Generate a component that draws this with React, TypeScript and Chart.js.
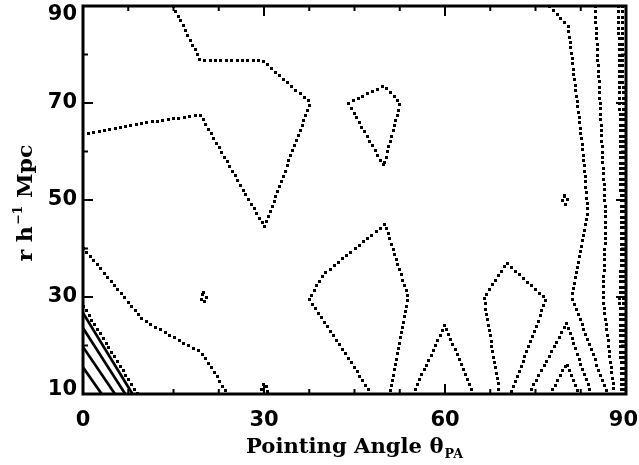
import React, { useEffect, useRef } from 'react';
import { Chart, registerables } from 'chart.js';

Chart.register(...registerables);

// ---- axis ticks ----
const xTickValues = [0, 30, 60, 90];
const xMinorTickValues = [7.5, 15, 22.5, 37.5, 45, 52.5, 67.5, 75, 82.5];
const yTickValues = [10, 30, 50, 70, 90];
const yMinorTickValues = [20, 40, 60, 80];
const xTitleMain = 'Pointing Angle θ';
const xTitleSub = 'PA';
const yTitleParts = ['r h', '−1', ' Mpc'];

// ---- contour lines (x = pointing angle, y = r) ----
const contourTopLeft = [[14.9, 90], [19.4, 78.8], [29.8, 78.8], [37.6, 70.1], [30, 44.5], [19.4, 67.6], [10, 66], [0, 63.5]];
const contourKite70 = [[43.9, 70.1], [49.8, 73.6], [52.5, 70.1], [49.8, 57.1], [43.9, 70.1]];
const contourLeft40 = [[0, 40.2], [9.9, 25.3], [19.4, 18.7], [21.9, 14.3], [23.8, 10]];
const contourLeft28 = [[0, 28.2], [9.0, 10]];
const solidLine1 = [[0, 26.7], [8.2, 10]];
const solidLine2 = [[0, 23.6], [7.0, 10]];
const solidLine3 = [[0, 19.7], [5.3, 10]];
const solidLine4 = [[0, 15.5], [3.1, 10]];
const blob20 = [[19.9, 31], [20.4, 29.9], [19.9, 28.9], [19.4, 29.9], [19.9, 31]];
const blob30 = [[29.4, 10], [29.6, 11.6], [30, 12.4], [30.4, 11.6], [30.6, 10]];
const blob80 = [[79.8, 51.1], [80.3, 50.1], [79.8, 49.1], [79.3, 50.1], [79.8, 51.1]];
const contourMid45 = [[47.8, 10], [37.4, 29.6], [39.8, 34.8], [50, 45.1], [53.8, 30.1], [50.7, 10]];
const contourPeak60 = [[54.6, 10], [59.9, 24.3], [64.7, 10]];
const contourKite37 = [[69, 10], [66.4, 29.8], [70.2, 37.1], [76.7, 29.6], [70.8, 10]];
const contourPeak80 = [[73.8, 10], [80.1, 24.7], [84.2, 10]];
const contourPeak16 = [[77.3, 10], [80.1, 16.4], [82.2, 10]];
const contourRightK = [[77.3, 90], [80.3, 86], [81.1, 78], [82.8, 60], [83.6, 48], [81, 30], [86.9, 10]];
const contourRightM = [[84.8, 90], [85.6, 70.7], [86.6, 45], [86.1, 30], [88, 10]];
const contourRightN = [[88.7, 90], [89.2, 40], [88.9, 30], [89.2, 10]];
const contourRightO = [[89.4, 90], [89.5, 10]];

const dottedContours = [
  contourTopLeft, contourKite70, contourLeft40, contourLeft28, blob20, blob30, blob80,
  contourMid45, contourPeak60, contourKite37, contourPeak80, contourPeak16,
  contourRightK, contourRightM, contourRightN, contourRightO,
];
const solidContours = [solidLine1, solidLine2, solidLine3, solidLine4];

const toPoints = (arr: number[][]) => arr.map(([x, y]) => ({ x, y }));

// draws the dotted contour datasets as crisp dots spaced along the library-computed polyline
const dottedLinePlugin = {
  id: 'dottedContours',
  afterDatasetsDraw(chart: any) {
    const { ctx, chartArea: a } = chart;
    ctx.save();
    ctx.beginPath();
    ctx.rect(a.left, a.top, a.right - a.left, a.bottom - a.top);
    ctx.clip();
    ctx.fillStyle = '#000';
    const spacing = 5.4;
    chart.data.datasets.forEach((ds: any, i: number) => {
      if (!ds.dotted) return;
      const pts = chart.getDatasetMeta(i).data;
      let carry = 0;
      for (let k = 0; k < pts.length - 1; k++) {
        const p0 = pts[k];
        const p1 = pts[k + 1];
        const dx = p1.x - p0.x;
        const dy = p1.y - p0.y;
        const len = Math.hypot(dx, dy);
        if (len === 0) continue;
        let t = carry;
        while (t <= len) {
          const cx = Math.round(p0.x + (dx * t) / len);
          const cy = Math.round(p0.y + (dy * t) / len);
          ctx.fillRect(cx - 1, cy - 1, 3, 3);
          t += spacing;
        }
        carry = t - len;
      }
    });
    ctx.restore();
  },
};

const framePlugin = {
  id: 'idlFrame',
  afterDraw(chart: any) {
    const { ctx, chartArea: a, scales } = chart;
    const xs = scales.x;
    const ys = scales.y;
    ctx.save();
    ctx.strokeStyle = '#000';
    ctx.fillStyle = '#000';
    ctx.setLineDash([]);
    // ticks
    ctx.lineWidth = 2;
    ctx.lineCap = 'butt';
    const drawX = (vals: number[], len: number) => {
      vals.forEach((v) => {
        const px = xs.getPixelForValue(v);
        ctx.beginPath();
        ctx.moveTo(px, a.bottom);
        ctx.lineTo(px, a.bottom - len);
        ctx.moveTo(px, a.top);
        ctx.lineTo(px, a.top + len);
        ctx.stroke();
      });
    };
    const drawY = (vals: number[], len: number) => {
      vals.forEach((v) => {
        const py = ys.getPixelForValue(v);
        ctx.beginPath();
        ctx.moveTo(a.left, py);
        ctx.lineTo(a.left + len, py);
        ctx.moveTo(a.right, py);
        ctx.lineTo(a.right - len, py);
        ctx.stroke();
      });
    };
    drawX(xTickValues, 10);
    drawX(xMinorTickValues, 5);
    drawY(yTickValues, 10);
    drawY(yMinorTickValues, 5);
    // frame
    ctx.lineWidth = 3;
    ctx.strokeRect(a.left, a.top, a.right - a.left, a.bottom - a.top);

    // tick labels
    ctx.font = 'bold 21px "DejaVu Sans"';
    ctx.textBaseline = 'middle';
    ctx.textAlign = 'right';
    yTickValues.forEach((v) => {
      let py = ys.getPixelForValue(v);
      py = Math.min(Math.max(py, 15), 390);
      ctx.fillText(String(v), a.left - 6, py);
    });
    ctx.textAlign = 'center';
    xTickValues.forEach((v) => {
      let px = xs.getPixelForValue(v);
      const w = ctx.measureText(String(v)).width;
      px = Math.min(px, chart.width - w / 2 - 1);
      ctx.fillText(String(v), px, 421);
    });

    // x title
    const mainFont = 'bold 20px "DejaVu Serif"';
    const subFont = 'bold 12px "DejaVu Serif"';
    ctx.textBaseline = 'alphabetic';
    ctx.textAlign = 'left';
    ctx.font = mainFont;
    const wMain = ctx.measureText(xTitleMain).width;
    ctx.font = subFont;
    const wSub = ctx.measureText(xTitleSub).width;
    const total = wMain + 1 + wSub;
    const targetW = 217;
    const sx = targetW / total;
    const cx = (a.left + a.right) / 2;
    ctx.save();
    ctx.translate(cx - targetW / 2, 453);
    ctx.scale(sx, 1);
    ctx.font = mainFont;
    ctx.fillText(xTitleMain, 0, 0);
    ctx.font = subFont;
    ctx.fillText(xTitleSub, wMain + 1, 5);
    ctx.restore();

    // y title (rotated)
    const yFont = 'bold 21px "DejaVu Serif"';
    ctx.font = yFont;
    const w0 = ctx.measureText(yTitleParts[0]).width;
    const w2 = ctx.measureText(yTitleParts[2]).width;
    ctx.font = subFont;
    const w1 = ctx.measureText(yTitleParts[1]).width;
    const ytot = w0 + w1 + 1 + w2;
    const yTarget = 117;
    const sy = yTarget / ytot;
    ctx.save();
    ctx.translate(32, 203);
    ctx.rotate(-Math.PI / 2);
    ctx.scale(sy, 1);
    ctx.translate(-ytot / 2, 0);
    ctx.font = yFont;
    ctx.fillText(yTitleParts[0], 0, 0);
    ctx.font = subFont;
    ctx.fillText(yTitleParts[1], w0 + 1, -10);
    ctx.font = yFont;
    ctx.fillText(yTitleParts[2], w0 + w1 + 1, 0);
    ctx.restore();

    ctx.restore();
  },
};

export default function App() {
  const canvasRef = useRef<HTMLCanvasElement | null>(null);

  useEffect(() => {
    const canvas = canvasRef.current;
    if (!canvas) return;
    const datasets: any[] = [];
    dottedContours.forEach((c) => {
      datasets.push({
        data: toPoints(c),
        dotted: true,
        showLine: false,
        borderColor: '#000',
        backgroundColor: '#000',
        pointRadius: 0,
        pointHoverRadius: 0,
        fill: false,
      });
    });
    solidContours.forEach((c) => {
      datasets.push({
        data: toPoints(c),
        showLine: true,
        borderColor: '#000',
        borderWidth: 2.7,
        borderCapStyle: 'butt',
        pointRadius: 0,
        pointHoverRadius: 0,
        fill: false,
      });
    });
    const chart = new Chart(canvas, {
      type: 'scatter',
      data: { datasets },
      options: {
        responsive: false,
        animation: false,
        devicePixelRatio: 1,
        events: [],
        layout: { padding: { left: 83, right: 13, top: 6, bottom: 71 } },
        plugins: { legend: { display: false }, tooltip: { enabled: false } },
        scales: {
          x: { type: 'linear', min: 0, max: 90, display: false },
          y: { type: 'linear', min: 10, max: 90, display: false },
        },
      },
      plugins: [dottedLinePlugin, framePlugin],
    } as any);
    return () => chart.destroy();
  }, []);

  return (
    <div style={{ position: 'fixed', left: 0, top: 0, width: 639, height: 465, background: '#fff' }}>
      <canvas ref={canvasRef} width={639} height={465} style={{ display: 'block' }} />
    </div>
  );
}
